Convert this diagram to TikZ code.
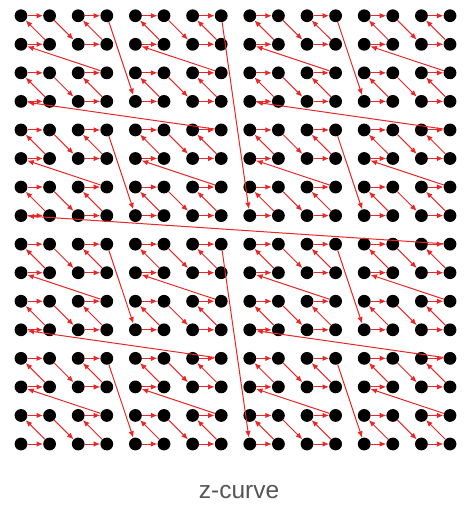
\documentclass[tikz,border=0pt]{standalone}
\usepackage{fontspec}
\setmainfont{Liberation Sans}
\usepackage{xcolor}
\usepackage{tikz}
\usetikzlibrary{arrows.meta}
\definecolor{curvered}{RGB}{235,38,38}
\definecolor{capgray}{RGB}{85,85,85}

\begin{document}
\begin{tikzpicture}[
    x=1pt,y=1pt,
    dot/.style={circle,fill=black,minimum size=12.8pt,inner sep=0pt},
    link/.style={-{Latex[length=6.5pt,width=5.5pt]},draw=curvered,line width=1pt},
    caption/.style={text=capgray,font=\fontsize{24.5}{29}\selectfont}
]
    \useasboundingbox (0,0) rectangle (474,-513);

    % Points in z-order
    \foreach \i in {0,...,255} {
        \pgfmathtruncatemacro{\cx}{mod(\i,2)+2*mod(div(\i,4),2)+4*mod(div(\i,16),2)+8*mod(div(\i,64),2)}
        \pgfmathtruncatemacro{\cy}{mod(div(\i,2),2)+2*mod(div(\i,8),2)+4*mod(div(\i,32),2)+8*mod(div(\i,128),2)}
        \node[dot] (p\i) at (21+28.6*\cx,-444+28.55*\cy) {};
    }

    % Curve
    \foreach \i [evaluate=\i as \j using int(\i+1)] in {0,...,254}
        \draw[link] (p\i) -- (p\j);

    % Caption
    \node[caption] (title) at (239,-492) {z-curve};
\end{tikzpicture}
\end{document}
